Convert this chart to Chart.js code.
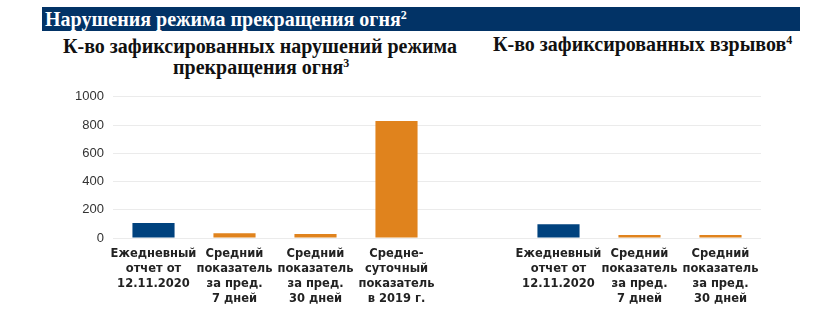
<!DOCTYPE html>
<html>
<head>
<meta charset="utf-8">
<script src="https://cdn.jsdelivr.net/npm/chart.js@4/dist/chart.umd.min.js"></script>
<style>
  body { margin: 0; background: #fff; width: 829px; height: 331px; overflow: hidden; position: relative; }
  .band { position: absolute; left: 42px; top: 7px; width: 758px; height: 24px; background: #023366; }
  .t { position: absolute; white-space: nowrap; font-family: 'Liberation Serif', serif; font-weight: bold; line-height: 1; }
  .band-text { left: 45px; top: 9px; font-size: 20px; color: #fff; }
  .sub { font-size: 20px; color: #111; }
  sup { font-size: 12px; vertical-align: 7px; }
  #wrap { position: absolute; left: 0; top: 80px; width: 829px; height: 251px; }
</style>
</head>
<body>
<div class="band"></div>
<div class="t band-text">Нарушения режима прекращения огня<sup>2</sup></div>
<div class="t sub" style="left:63px; top:36px;">К-во зафиксированных нарушений режима</div>
<div class="t sub" style="left:173px; top:57px;">прекращения огня<sup>3</sup></div>
<div class="t sub" style="left:493px; top:34px;">К-во зафиксированных взрывов<sup>4</sup></div>
<div id="wrap"><canvas id="c"></canvas></div>
<script>
const categories = [
  ['Ежедневный', 'отчет от', '12.11.2020'],
  ['Средний', 'показатель', 'за пред.', '7 дней'],
  ['Средний', 'показатель', 'за пред.', '30 дней'],
  ['Средне-', 'суточный', 'показатель', 'в 2019 г.'],
  '',
  ['Ежедневный', 'отчет от', '12.11.2020'],
  ['Средний', 'показатель', 'за пред.', '7 дней'],
  ['Средний', 'показатель', 'за пред.', '30 дней']
];
const values = [106, 33, 28, 829, null, 97, 21, 21];
const barColors = ['#00427e', '#e0831d', '#e0831d', '#e0831d', '#e0831d', '#00427e', '#e0831d', '#e0831d'];
const yTicks = [0, 200, 400, 600, 800, 1000];

new Chart(document.getElementById('c'), {
  type: 'bar',
  data: {
    labels: categories,
    datasets: [{ data: values, backgroundColor: barColors, borderWidth: 0, barPercentage: 0.52, categoryPercentage: 1 }]
  },
  options: {
    responsive: true,
    maintainAspectRatio: false,
    animation: false,
    layout: { padding: { left: 60, right: 68, top: 14, bottom: 0 } },
    plugins: { legend: { display: false }, tooltip: { enabled: false } },
    scales: {
      y: {
        min: 0, max: 1000,
        afterBuildTicks: s => { s.ticks = yTicks.map(v => ({ value: v })); },
        afterFit: s => { s.width = 53; },
        grid: { color: '#ebebeb', drawTicks: false },
        border: { display: false },
        ticks: { padding: 9, color: '#333', font: { family: 'Liberation Sans', size: 13 }, callback: v => String(v) }
      },
      x: {
        afterFit: s => { s.height = 93; },
        grid: { display: false },
        border: { display: false },
        ticks: { padding: 1, maxRotation: 0, autoSkip: false, color: '#222', font: { family: 'DejaVu Sans', size: 11.5, weight: 'bold', lineHeight: 1.28 } }
      }
    }
  }
});
</script>
</body>
</html>
